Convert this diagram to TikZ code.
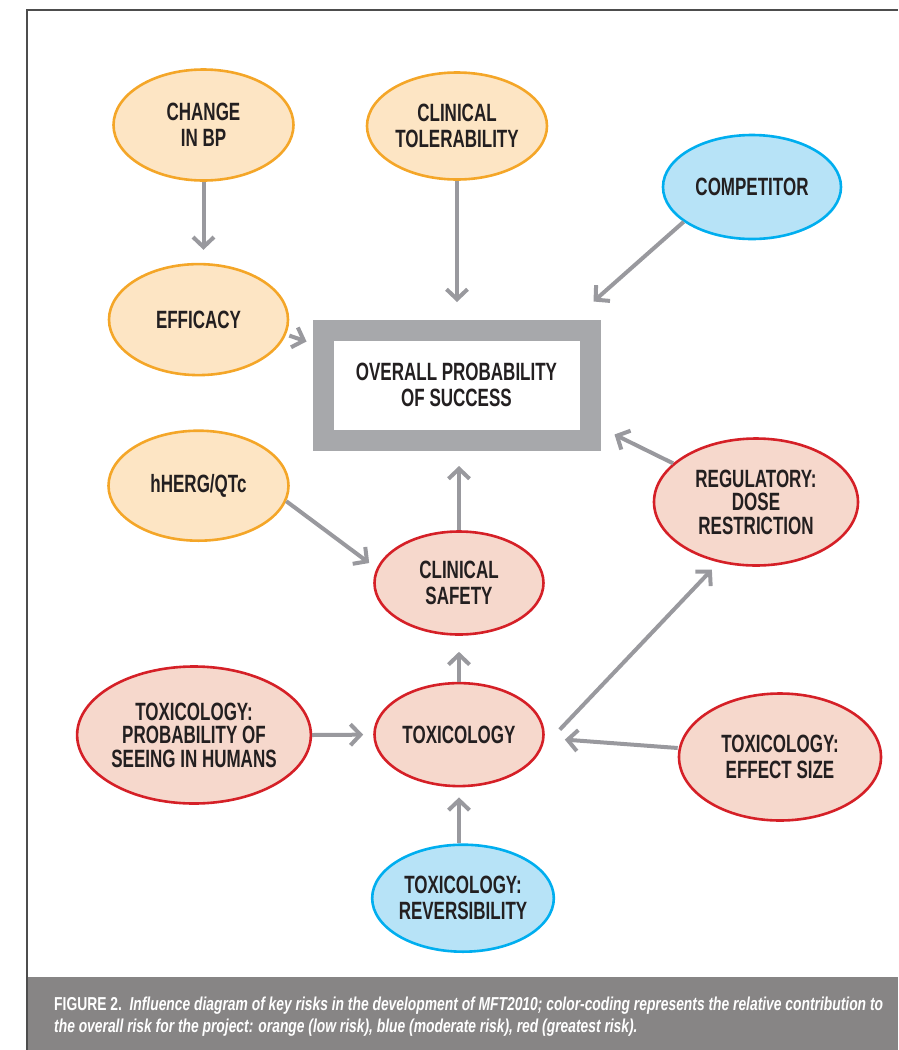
\documentclass[tikz,border=0pt]{standalone}
\usepackage{fontspec}
\usetikzlibrary{shapes.geometric,arrows.meta,positioning}
\newfontfamily\condfont[FakeStretch=0.68]{Liberation Sans}
\newfontfamily\capfont[FakeStretch=0.74]{Liberation Sans}
\newcommand\riskfont{\condfont\bfseries\fontsize{25}{26}\selectfont}
\newcommand\riskfonttight{\condfont\bfseries\fontsize{25}{23.5}\selectfont}
\definecolor{orfill}{RGB}{253,229,196}
\definecolor{orline}{RGB}{244,166,40}
\definecolor{blfill}{RGB}{183,227,247}
\definecolor{blline}{RGB}{0,174,239}
\definecolor{rdfill}{RGB}{246,216,204}
\definecolor{rdline}{RGB}{213,32,39}
\definecolor{arrgray}{RGB}{153,153,158}
\definecolor{boxgray}{RGB}{167,168,171}
\definecolor{capgray}{RGB}{135,133,133}
\definecolor{framegray}{RGB}{77,77,77}
\definecolor{ink}{RGB}{35,31,32}

\begin{document}
\begin{tikzpicture}[x=1pt,y=-1pt,
  risk/.style={ellipse,draw,line width=2.6pt,inner sep=0pt,align=center,
    font=\riskfont,text=ink},
  lowrisk/.style={risk,fill=orfill,draw=orline},
  modrisk/.style={risk,fill=blfill,draw=blline},
  highrisk/.style={risk,fill=rdfill,draw=rdline},
  arr/.style={draw=arrgray,line width=4pt,-{Straight Barb[length=10pt,width=21pt]}}]

  \useasboundingbox (0,0) rectangle (898,1050);
  \fill[capgray] (27,977) rectangle (898,1050);
  \draw[framegray,line width=1.5pt] (27,1050) -- (27,10) -- (898,10);

  \node[draw=boxgray,line width=21pt,minimum width=267pt,minimum height=110pt,
    inner sep=0pt,align=center,font=\riskfont,text=ink] (success) at (456.5,385)
    {OVERALL PROBABILITY\\OF SUCCESS};

  % orange nodes
  \node[lowrisk,minimum width=180pt,minimum height=111pt] (changebp) at (203.5,125) {CHANGE\\IN BP};
  \node[lowrisk,minimum width=180pt,minimum height=107pt] (tolerability) at (457,126) {CLINICAL\\TOLERABILITY};
  \node[lowrisk,minimum width=179pt,minimum height=111pt,below=81pt of changebp,xshift=-5pt] (efficacy) {EFFICACY};
  \node[lowrisk,minimum width=180pt,minimum height=110pt,below=53pt of efficacy] (hherg) {hHERG/QTc};

  % blue nodes
  \node[modrisk,minimum width=178pt,minimum height=104pt] (competitor) at (752,187) {COMPETITOR};

  % red nodes
  \node[highrisk,minimum width=169pt,minimum height=103pt] (safety) at (459,583) {CLINICAL\\SAFETY};
  \node[highrisk,minimum width=204pt,minimum height=127pt,font=\riskfonttight] (regulatory) at (756,502) {REGULATORY:\\DOSE\\RESTRICTION};
  \node[highrisk,minimum width=169pt,minimum height=103pt,below=46pt of safety] (tox) {TOXICOLOGY};
  \node[highrisk,minimum width=221pt,minimum height=137pt,font=\riskfonttight] (probhumans) at (194,735) {TOXICOLOGY:\\PROBABILITY OF\\SEEING IN HUMANS};
  \node[highrisk,minimum width=202pt,minimum height=127pt] (effectsize) at (780,757) {TOXICOLOGY:\\EFFECT SIZE};

  \node[modrisk,minimum width=180pt,minimum height=107pt,below=56pt of tox,xshift=4pt] (reversibility) {TOXICOLOGY:\\REVERSIBILITY};

  % influences
  \draw[arr,shorten >=13pt] (changebp.south) -- (changebp.south |- efficacy.north);
  \draw[arr,shorten >=17.5pt] (tolerability.south) -- (tolerability.south |- success.north);
  \draw[arr] (competitor.207) -- ([xshift=-7pt,yshift=18pt]success.north east);
  \draw[arr] ([yshift=-16pt]efficacy.east) -- ([xshift=-6pt,yshift=-22pt]success.north west);
  \draw[arr] (hherg.-10) -- ([xshift=-4pt,yshift=20pt]safety.west);
  \draw[arr,shorten >=15.5pt] (safety.north) -- (safety.north |- success.south);
  \draw[arr] (regulatory.155) -- ([xshift=14pt,yshift=16pt]success.south east);
  \draw[arr,shorten >=16pt] (tox.north) -- (safety.south);
  \draw[arr] ([xshift=15pt,yshift=5pt]tox.east) -- ([yshift=-9pt]regulatory.233);
  \draw[arr,shorten >=10pt] (probhumans.east) -- (tox.west);
  \draw[arr] ([yshift=9pt]effectsize.west) -- ([xshift=20pt,yshift=-5pt]tox.east);
  \draw[arr,shorten >=10pt] (tox.south |- reversibility.north) -- (tox.south);

  \node[anchor=north west,inner sep=0pt,align=left,text=white,
    font=\capfont\bfseries\fontsize{18.7}{22}\selectfont] (caption) at (54,997)
    {FIGURE 2.\ \ \itshape Influence diagram of key risks in the development of MFT2010; color-coding represents the relative contribution to\\
     \itshape the overall risk for the project: orange (low risk), blue (moderate risk), red (greatest risk).};
\end{tikzpicture}
\end{document}
